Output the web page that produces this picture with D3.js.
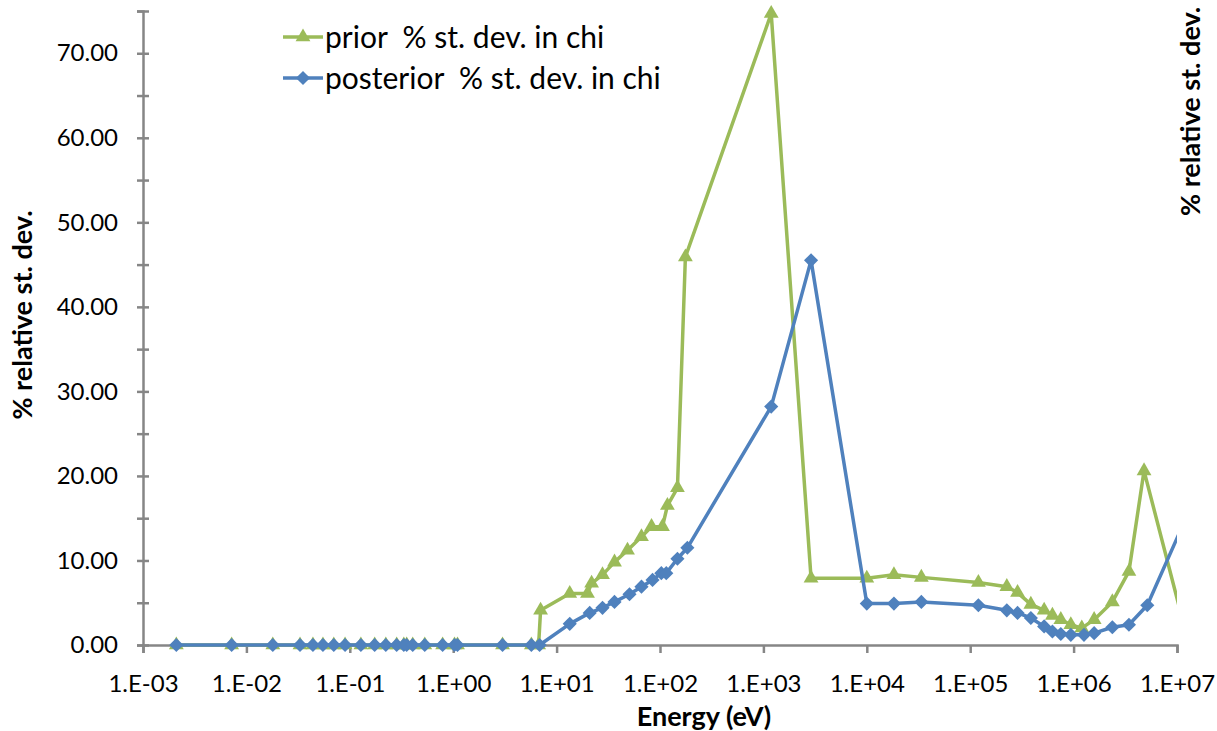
<!DOCTYPE html>
<html>
<head>
<meta charset="utf-8">
<script src="https://cdn.jsdelivr.net/npm/d3@7"></script>
<style>
  body { margin: 0; background: #fff; }
  svg { display: block; font-family: Lato, "Open Sans", sans-serif; }
  text { white-space: pre; }
</style>
</head>
<body>
<div id="chart"></div>
<script>
// energies in eV, values in % relative st. dev.
const priorEnergy = [0.0021, 0.0072, 0.018, 0.033, 0.044, 0.055, 0.070, 0.090, 0.128, 0.174, 0.223, 0.284, 0.333, 0.355, 0.406, 0.531, 0.79, 1.03, 1.10, 3.0, 5.7, 6.7,
    7.0, 13.4, 19.9, 21.8, 27.8, 36.3, 48.5, 66.2, 82.8, 105.7, 118, 147.5, 176,
    1190, 2890, 10000, 18300, 33700, 120000, 226000, 287000, 386000, 519000, 624000, 752000, 940000, 1200000, 1580000, 2370000, 3430000, 4800000, 12600000];
const priorValue = [0, 0, 0, 0, 0, 0, 0, 0, 0, 0, 0, 0, 0, 0, 0, 0, 0, 0, 0, 0, 0, 0,
    4.1, 6.1, 6.1, 7.3, 8.3, 9.8, 11.2, 12.8, 14.0, 14.0, 16.5, 18.6, 45.9,
    74.7, 7.9, 7.9, 8.3, 8.0, 7.4, 6.9, 6.2, 4.8, 4.1, 3.5, 3.0, 2.4, 2.0, 3.0, 5.1, 8.7, 20.6, 0.8];

const postEnergy = [0.0021, 0.0072, 0.018, 0.033, 0.044, 0.055, 0.070, 0.090, 0.128, 0.174, 0.223, 0.284, 0.333, 0.355, 0.406, 0.531, 0.79, 1.03, 1.10, 3.0, 5.7, 6.85,
    13.4, 20.9, 27.8, 36.3, 50.7, 66.2, 84.7, 103, 115, 147.5, 184,
    1190, 2890, 10000, 18300, 33700, 120000, 226000, 287000, 386000, 519000, 624000, 752000, 940000, 1260000, 1580000, 2370000, 3430000, 5160000, 12600000];
const postValue = [0, 0, 0, 0, 0, 0, 0, 0, 0, 0, 0, 0, 0, 0, 0, 0, 0, 0, 0, 0, 0, 0,
    2.5, 3.8, 4.4, 5.1, 6.0, 6.9, 7.7, 8.5, 8.5, 10.2, 11.5,
    28.2, 45.5, 4.9, 4.9, 5.1, 4.7, 4.1, 3.8, 3.2, 2.2, 1.6, 1.3, 1.2, 1.2, 1.4, 2.1, 2.4, 4.7, 15.4];

const xTicks = [1e-3, 1e-2, 1e-1, 1e0, 1e1, 1e2, 1e3, 1e4, 1e5, 1e6, 1e7];
const yTicks = [0, 5, 10, 15, 20, 25, 30, 35, 40, 45, 50, 55, 60, 65, 70, 75];

const seriesNames = ['prior  % st. dev. in chi', 'posterior  % st. dev. in chi'];
const seriesColors = ['#9BBB59', '#4F81BD'];

const width = 1217, height = 731;
const axisColor = '#868686';

const svg = d3.select('#chart').append('svg')
    .attr('width', width)
    .attr('height', height);

const x = d3.scaleLog().domain([1e-3, 1e7]).range([143, 1177]);
const y = d3.scaleLinear().domain([0, 75]).range([645, 11]);

// clip lines at the right edge of the plot
svg.append('defs').append('clipPath').attr('id', 'plotclip')
    .append('rect')
    .attr('x', x.range()[0] - 20).attr('y', 0)
    .attr('width', x.range()[1] - x.range()[0] + 20).attr('height', height);

// y axis, ticks cross the line
let yAxis = d3.axisLeft(y)
    .tickValues(yTicks)
    .tickSizeOuter(0)
    .tickSize(6)
    .tickPadding(19)
    .tickFormat((d) => d % 10 === 0 ? d3.format('.2f')(d) : '');

let gy = svg.append('g')
    .attr('transform', `translate(${x.range()[0]},0)`)
    .call(yAxis);
gy.select('.domain').attr('stroke', axisColor).attr('stroke-width', 2.5);
gy.selectAll('.tick line').attr('x1', -6).attr('x2', 6)
    .attr('stroke', axisColor).attr('stroke-width', 2.5);
gy.selectAll('.tick text')
    .attr('font-size', 24).attr('fill', '#000')
    .attr('font-family', 'Lato, sans-serif');

// x axis
let expFmt = (d) => {
    let e = Math.round(Math.log10(d));
    let s = e < 0 ? '-' : '+';
    return '1.E' + s + String(Math.abs(e)).padStart(2, '0');
};

let xAxis = d3.axisBottom(x)
    .tickValues(xTicks)
    .tickSizeOuter(0)
    .tickSize(8)
    .tickPadding(22)
    .tickFormat(expFmt);

let gx = svg.append('g')
    .attr('transform', `translate(0,${y(0)})`)
    .call(xAxis);
gx.select('.domain').attr('stroke', axisColor).attr('stroke-width', 2.5);
gx.selectAll('.tick line').attr('stroke', axisColor).attr('stroke-width', 2.5);
gx.selectAll('.tick text')
    .attr('font-size', 24).attr('fill', '#000')
    .attr('font-family', 'Lato, sans-serif');

// axis titles
svg.append('text')
    .attr('x', 704).attr('y', 726)
    .attr('text-anchor', 'middle')
    .attr('font-size', 27).attr('font-weight', 'bold')
    .text('Energy (eV)');

svg.append('text')
    .attr('transform', 'translate(32,315) rotate(-90)')
    .attr('text-anchor', 'middle')
    .attr('font-size', 27).attr('font-weight', 'bold')
    .text('% relative st. dev.');

svg.append('text')
    .attr('transform', 'translate(1200,216) rotate(-90)')
    .attr('text-anchor', 'start')
    .attr('font-size', 27).attr('font-weight', 'bold')
    .text('% relative st. dev.');

// series
const series = [
    { name: seriesNames[0], color: seriesColors[0], shape: d3.symbolTriangle, size: 95, rot: 0,
      pts: priorEnergy.map((e, i) => ({ x: e, y: priorValue[i] })) },
    { name: seriesNames[1], color: seriesColors[1], shape: d3.symbolSquare, size: 100, rot: 45,
      pts: postEnergy.map((e, i) => ({ x: e, y: postValue[i] })) }
];

let line = d3.line()
    .x((d) => x(d.x))
    .y((d) => y(d.y));

series.forEach((s) => {
    let g = svg.append('g').attr('clip-path', 'url(#plotclip)');
    g.append('path')
        .attr('d', line(s.pts))
        .attr('fill', 'none')
        .attr('stroke', s.color)
        .attr('stroke-width', 3.5)
        .attr('stroke-linejoin', 'round');
    g.selectAll('path.mark')
        .data(s.pts.filter((d) => x(d.x) <= x.range()[1]))
        .enter().append('path')
        .attr('class', 'mark')
        .attr('d', d3.symbol().type(s.shape).size(s.size))
        .attr('transform', (d) => `translate(${x(d.x)},${y(d.y)}) rotate(${s.rot})`)
        .attr('fill', s.color);
});

// legend
series.forEach((s, i) => {
    let ly = 37 + i * 41;
    let g = svg.append('g');
    g.append('line')
        .attr('x1', 283).attr('x2', 323)
        .attr('y1', ly).attr('y2', ly)
        .attr('stroke', s.color).attr('stroke-width', 3.5);
    g.append('path')
        .attr('d', d3.symbol().type(s.shape).size(s.size))
        .attr('transform', `translate(303,${ly}) rotate(${s.rot})`)
        .attr('fill', s.color);
    g.append('text')
        .attr('x', 325).attr('y', ly + 11)
        .attr('font-size', 30)
        .attr('fill', '#000')
        .text(s.name);
});
</script>
</body>
</html>
